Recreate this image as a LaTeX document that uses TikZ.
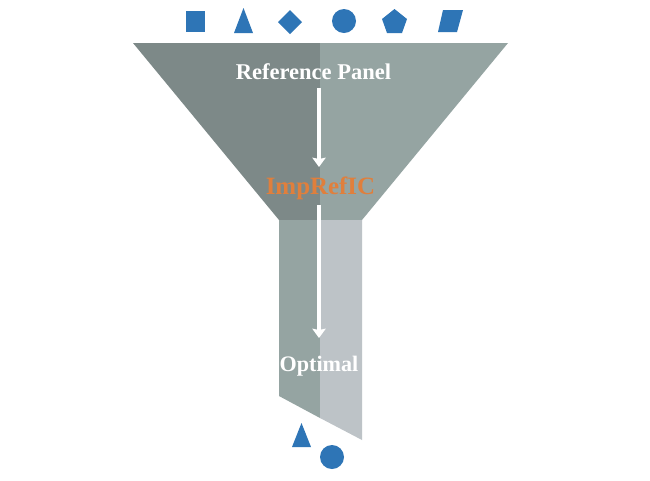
\documentclass[tikz,border=0pt]{standalone}
\usepackage{fontspec}
\setmainfont{Liberation Serif}
\usetikzlibrary{arrows.meta}
\definecolor{funnelDark}{HTML}{7D8988}
\definecolor{funnelMid}{HTML}{95A4A2}
\definecolor{neckLight}{HTML}{BDC3C7}
\definecolor{markBlue}{HTML}{2E75B6}
\definecolor{labelOrange}{HTML}{E07F3C}
\tikzset{
  mark shape/.style={fill=markBlue},
  panel label/.style={font=\bfseries\fontsize{16.9}{20}\selectfont, text=white},
  flow arrow/.style={white, line width=3.6pt, -{Stealth[length=7pt, width=10pt, inset=1pt]}}
}
\begin{document}
\begin{tikzpicture}[x=0.75pt, y=-0.75pt]
  \useasboundingbox[fill=white] (0, 0) rectangle (650, 480);

  % Funnel body
  \fill[funnelDark] (133, 43) -- (320, 43) -- (320, 220) -- (279, 220) -- cycle;
  \fill[funnelMid] (320, 43) -- (508, 43) -- (362, 220) -- (320, 220) -- cycle;

  % Neck
  \fill[funnelMid] (279, 220) -- (320, 220) -- (320, 418) -- (279, 396) -- cycle;
  \fill[neckLight] (320, 220) -- (362, 220) -- (362, 440) -- (320, 418) -- cycle;

  % Shapes going in
  \fill[mark shape] (186, 11) rectangle (205, 32);
  \fill[mark shape] (243.5, 8) -- (253, 33) -- (234, 33) -- cycle;
  \fill[mark shape] (290, 10) -- (302, 22) -- (290, 34) -- (278, 22) -- cycle;
  \fill[mark shape] (344, 21) circle[radius=9pt];
  \fill[mark shape] (394.5, 9) -- (407, 19) -- (402, 33) -- (387, 33) -- (382, 19) -- cycle;
  \fill[mark shape] (443, 10) -- (463, 10) -- (457, 32) -- (438, 32) -- cycle;

  % Shapes coming out
  \fill[mark shape] (301.5, 423) -- (311, 447) -- (292, 447) -- cycle;
  \fill[mark shape] (332, 457) circle[radius=9pt];

  % Labels
  \node[panel label] (refpanel) at (313.5, 71.5) {Reference Panel};
  \node[panel label, text=labelOrange, font=\bfseries\fontsize{18.7}{22}\selectfont] (imprefic) at (320.5, 188) {ImpRefIC};
  \node[panel label, font=\bfseries\fontsize{16.6}{20}\selectfont] (optimal) at (319, 366) {Optimal};

  % Flow arrows
  \coordinate (refout) at (319, 88);
  \coordinate (impin) at (319, 167);
  \coordinate (impout) at (319, 205);
  \coordinate (optin) at (319, 338);
  \draw[flow arrow] (refout) -- (impin);
  \draw[flow arrow] (impout) -- (optin);
\end{tikzpicture}
\end{document}
